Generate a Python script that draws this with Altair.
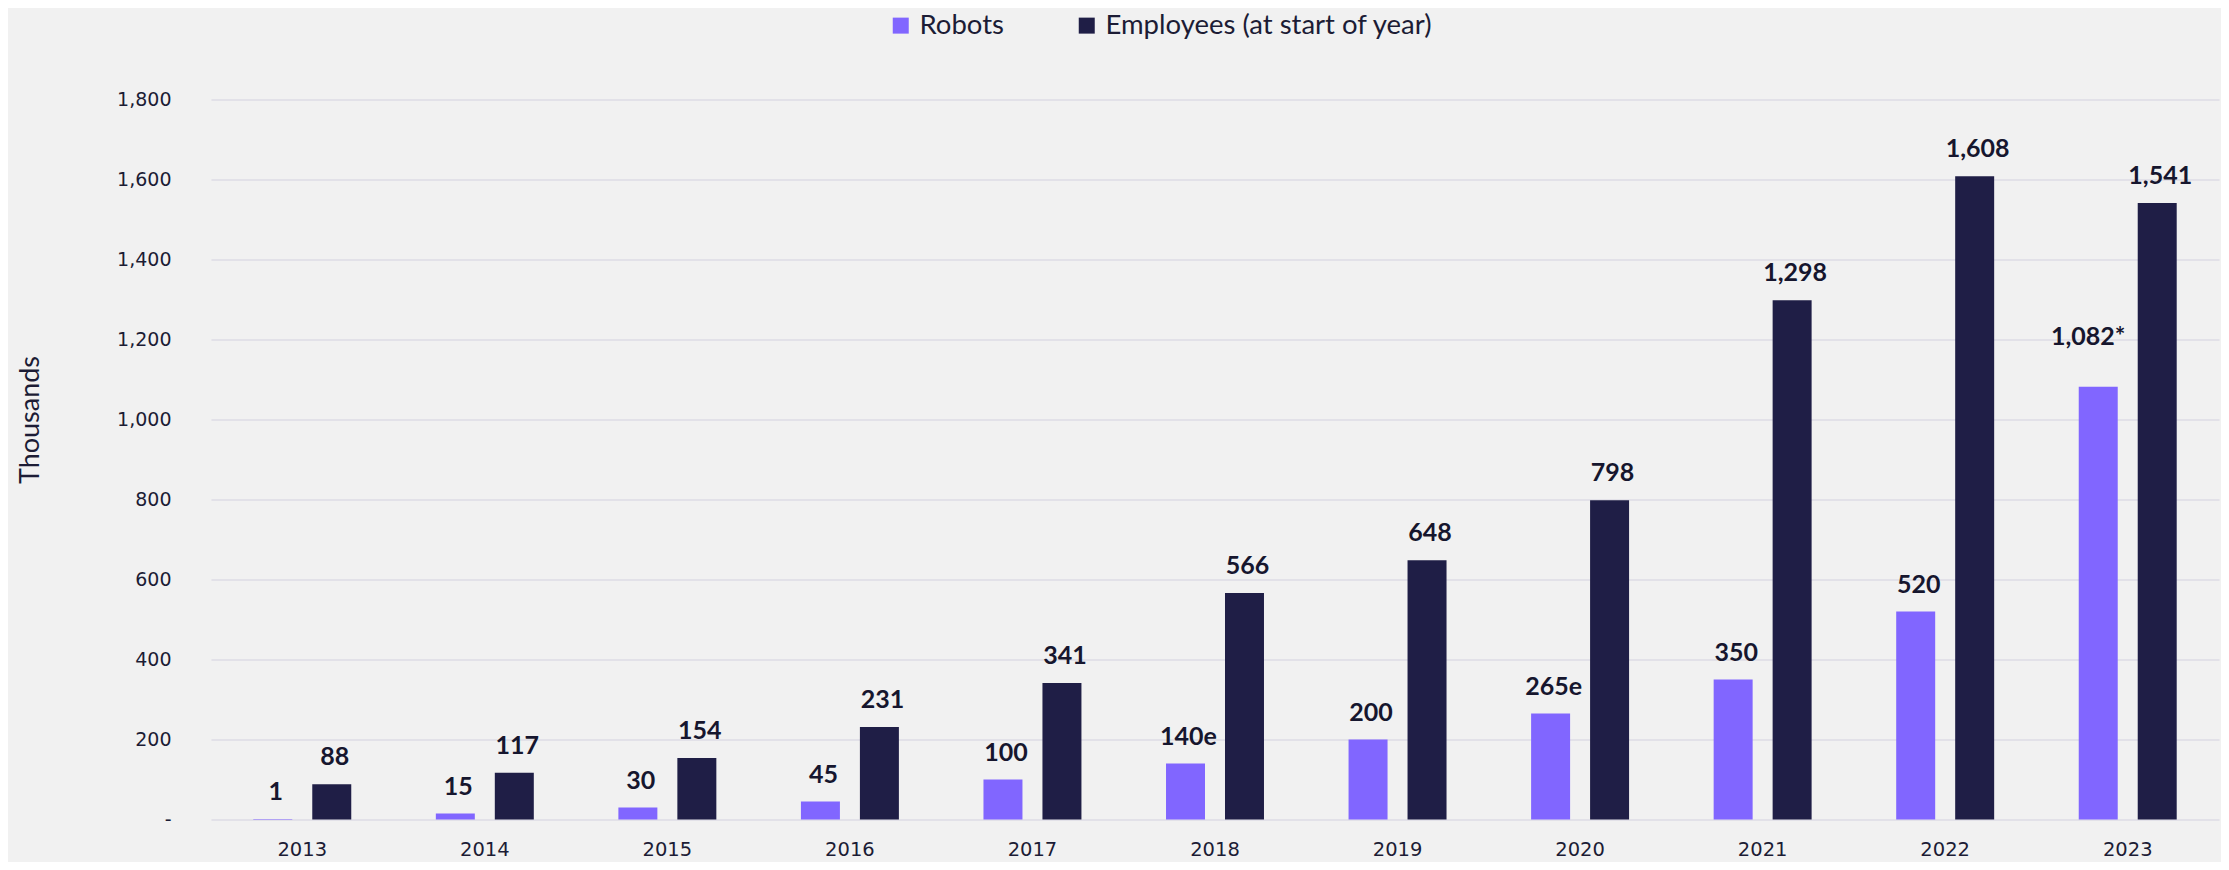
import altair as alt
import pandas as pd

years = ["2013", "2014", "2015", "2016", "2017", "2018", "2019", "2020", "2021", "2022", "2023"]
robots = [1, 15, 30, 45, 100, 140, 200, 265, 350, 520, 1082]
robot_labels = ["1", "15", "30", "45", "100", "140e", "200", "265e", "350", "520", "1,082*"]
employees = [88, 117, 154, 231, 341, 566, 648, 798, 1298, 1608, 1541]
employee_labels = ["88", "117", "154", "231", "341", "566", "648", "798", "1,298", "1,608", "1,541"]
series_names = ["Robots", "Employees (at start of year)"]
series_colors = ["#8166FF", "#1F1E46"]
y_ticks = [0, 200, 400, 600, 800, 1000, 1200, 1400, 1600, 1800]

rows = []
for i, y in enumerate(years):
    rows.append({"year": y, "series": series_names[0], "value": robots[i], "label": robot_labels[i]})
    rows.append({"year": y, "series": series_names[1], "value": employees[i], "label": employee_labels[i]})
df = pd.DataFrame(rows)

TEXT = "#1c1c35"

x_enc = alt.X("year:N", sort=years, title=None,
              scale=alt.Scale(paddingInner=0, paddingOuter=0),
              axis=alt.Axis(labelFont="DejaVu Sans", labelFontSize=19.5, labelColor=TEXT,
                            labelAngle=0, ticks=False, domain=False, grid=False,
                            labelPadding=30, labelBaseline="middle"))
xoff_enc = alt.XOffset("series:N", sort=series_names,
                       scale=alt.Scale(paddingInner=0.339, paddingOuter=0.717))
y_enc = alt.Y("value:Q", scale=alt.Scale(domain=[0, 1800], nice=False),
              title="Thousands",
              axis=alt.Axis(values=y_ticks, grid=True, gridColor="#DCDBE4", gridWidth=1.5,
                            ticks=False, domain=False,
                            labelExpr="datum.value == 0 ? '-' : format(datum.value, ',')",
                            labelFont="DejaVu Sans", labelFontSize=19, labelColor=TEXT,
                            labelPadding=40,
                            titleFont="Lato", titleFontSize=27, titleFontWeight="normal",
                            titleColor=TEXT, titleX=-181, titleY=320,
                            titleAlign="center", titleBaseline="middle"))

base = alt.Chart(df)

bars = base.mark_bar().encode(
    x=x_enc,
    xOffset=xoff_enc,
    y=y_enc,
    color=alt.Color("series:N", sort=series_names,
                    scale=alt.Scale(domain=series_names, range=series_colors),
                    legend=alt.Legend(orient="none", legendX=676, legendY=-88,
                                      direction="horizontal", title=None,
                                      symbolType="square", symbolSize=256,
                                      symbolStrokeWidth=0,
                                      labelFont="Lato", labelFontSize=27.5, labelColor=TEXT,
                                      labelLimit=0,
                                      columnPadding=69, labelOffset=5)),
)

is_special = (alt.datum.year == "2023") & (alt.datum.series == "Robots")

labels = base.mark_text(font="Lato", fontSize=25, fontWeight="bold", color="#16162E",
                        baseline="alphabetic", dy=-19, dx=3).encode(
    x=alt.X("year:N", sort=years),
    xOffset=alt.XOffset("series:N", sort=series_names),
    y="value:Q",
    text="label:N",
).transform_filter(~is_special)

labels_special = base.mark_text(font="Lato", fontSize=25, fontWeight="bold", color="#16162E",
                                baseline="alphabetic", dy=-42, dx=-10).encode(
    x=alt.X("year:N", sort=years),
    xOffset=alt.XOffset("series:N", sort=series_names),
    y="value:Q",
    text="label:N",
).transform_filter(is_special)

chart = alt.layer(bars, labels, labels_special).properties(
    width=2008, height=720,
    autosize=alt.AutoSizeParams(type="none"),
    padding={"left": 203, "top": 91.5, "right": 2, "bottom": 42},
    background="#F1F1F1",
).configure_view(stroke=None)

chart.save("out.html", embed_options={"renderer": "svg", "actions": False})
